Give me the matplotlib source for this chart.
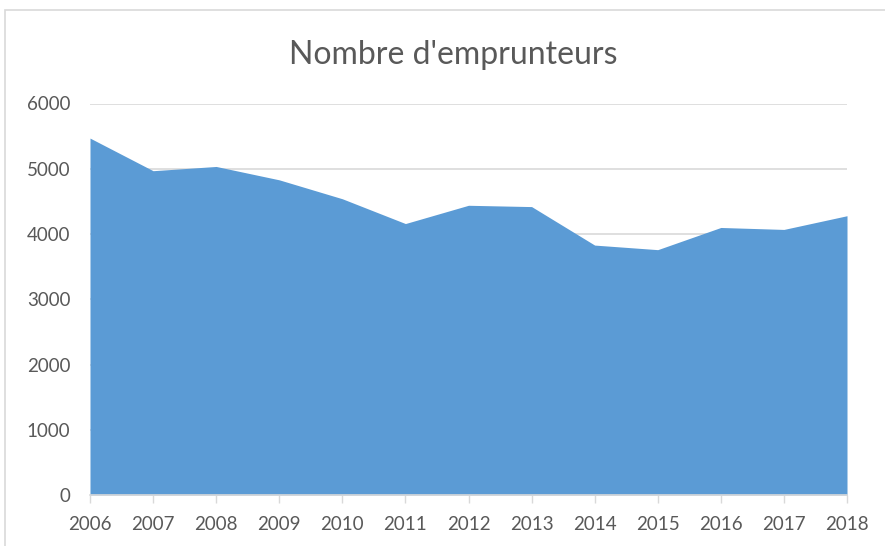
import matplotlib
matplotlib.use("Agg")
import matplotlib.pyplot as plt
from matplotlib.patches import Rectangle

# Data
years = [2006, 2007, 2008, 2009, 2010, 2011, 2012, 2013, 2014, 2015, 2016, 2017, 2018]
emprunteurs = [5470, 4970, 5035, 4830, 4540, 4160, 4440, 4420, 3830, 3760, 4100, 4070, 4280]
y_ticks = [0, 1000, 2000, 3000, 4000, 5000, 6000]

plt.rcParams['font.family'] = ['Lato', 'DejaVu Sans']
text_color = '#595959'

fig = plt.figure(figsize=(8.85, 5.46), dpi=100)
ax = fig.add_axes([90 / 885, 1 - 495 / 546, (847 - 90) / 885, (495 - 103.5) / 546])

ax.fill_between(years, emprunteurs, 0, color='#5B9BD5', linewidth=0, zorder=2)

ax.set_xlim(years[0], years[-1])
ax.set_ylim(0, 6000)
ax.set_xticks(years)
ax.set_yticks(y_ticks)
ax.grid(axis='y', color='#D9D9D9', linewidth=1.2, zorder=0)
ax.set_axisbelow(True)

for side in ['top', 'right', 'left']:
    ax.spines[side].set_visible(False)
ax.spines['bottom'].set_color('#D9D9D9')
ax.spines['bottom'].set_linewidth(1.2)
ax.spines['bottom'].set_zorder(3)

ax.tick_params(axis='x', colors='#D9D9D9', length=6, width=1, labelcolor=text_color,
               labelsize=13.5, pad=9)
ax.tick_params(axis='y', length=0, labelcolor=text_color, labelsize=13.5, pad=14)

fig.text(453 / 885, 1 - 55 / 546, "Nombre d'emprunteurs", ha='center', va='center',
         fontsize=23, color=text_color)

# light frame around the chart area (cropped on the right and bottom)
fig.patches.append(Rectangle((5 / 885, -0.1), 1.2, 1 - 10 / 546 + 0.1,
                             transform=fig.transFigure, fill=False,
                             edgecolor='#D9D9D9', linewidth=1.2))

fig.savefig("out.png", dpi=100)
